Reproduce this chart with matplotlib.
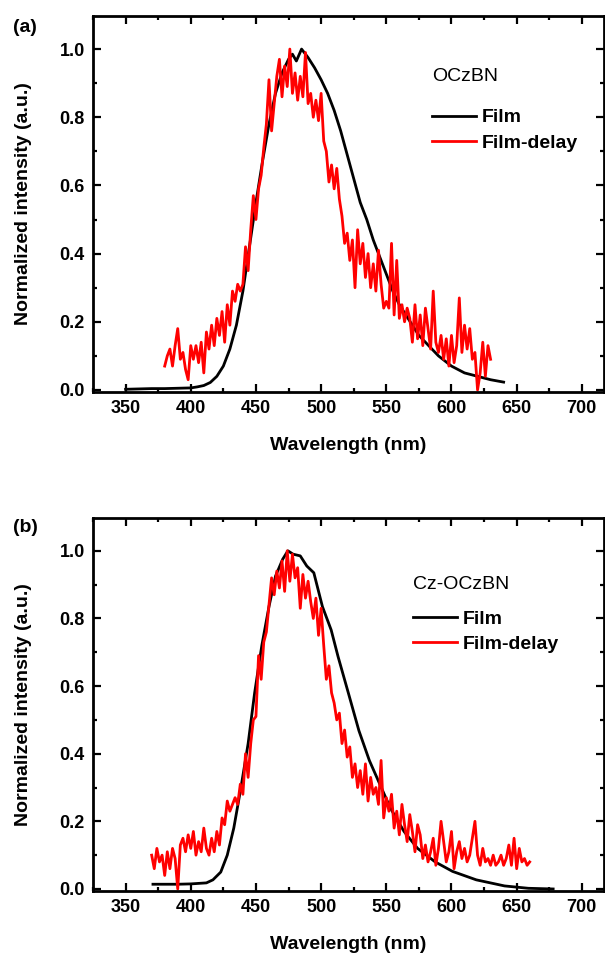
import numpy as np
import matplotlib
matplotlib.use('Agg')
import matplotlib.pyplot as plt
from matplotlib.ticker import MultipleLocator

plt.rcParams['font.family'] = ['Liberation Sans', 'DejaVu Sans']

# (a) OCzBN
a_film_x = [350, 360, 370, 380, 390, 400, 405, 410, 415, 420, 425, 430, 435, 440, 445, 450,
            455, 460, 465, 470, 475, 478, 481, 485, 490, 495, 500, 505, 510, 515, 520, 525,
            530, 535, 540, 545, 550, 555, 560, 565, 570, 575, 580, 585, 590, 595, 600, 610,
            620, 630, 640]
a_film_y = [0.002, 0.003, 0.004, 0.004, 0.005, 0.006, 0.009, 0.013, 0.022, 0.04, 0.07, 0.12,
            0.19, 0.29, 0.42, 0.55, 0.67, 0.78, 0.87, 0.93, 0.97, 0.985, 0.965, 1.0, 0.975,
            0.945, 0.91, 0.87, 0.82, 0.76, 0.69, 0.62, 0.55, 0.50, 0.44, 0.39, 0.34, 0.29,
            0.25, 0.22, 0.19, 0.16, 0.14, 0.12, 0.10, 0.085, 0.07, 0.05, 0.04, 0.03, 0.023]

a_delay_x = list(range(380, 632, 2))
a_delay_y = [0.07, 0.10, 0.12, 0.07, 0.13, 0.18, 0.09, 0.11, 0.06, 0.03, 0.13, 0.09, 0.13,
             0.08, 0.14, 0.05, 0.17, 0.12, 0.19, 0.13, 0.21, 0.16, 0.23, 0.14, 0.25, 0.19,
             0.29, 0.26, 0.31, 0.29, 0.31, 0.42, 0.35, 0.47, 0.57, 0.50, 0.59, 0.63, 0.71,
             0.78, 0.91, 0.76, 0.84, 0.92, 0.97, 0.86, 0.95, 0.89, 1.00, 0.87, 0.93, 0.85,
             0.92, 0.86, 0.99, 0.84, 0.87, 0.80, 0.85, 0.79, 0.87, 0.73, 0.70, 0.61, 0.66,
             0.59, 0.65, 0.56, 0.51, 0.43, 0.46, 0.38, 0.44, 0.30, 0.47, 0.37, 0.43, 0.33,
             0.40, 0.30, 0.37, 0.29, 0.41, 0.31, 0.24, 0.26, 0.24, 0.43, 0.22, 0.38, 0.21,
             0.25, 0.20, 0.24, 0.21, 0.14, 0.25, 0.15, 0.22, 0.13, 0.24, 0.18, 0.12, 0.29,
             0.14, 0.11, 0.16, 0.09, 0.15, 0.07, 0.16, 0.08, 0.13, 0.27, 0.11, 0.19, 0.12,
             0.18, 0.09, 0.11, 0.00, 0.05, 0.14, 0.04, 0.13, 0.09]

# (b) Cz-OCzBN
b_film_x = [371, 380, 390, 400, 412, 417, 423, 428, 433, 438.5, 444, 449, 454.5, 460, 465,
            470.5, 474.5, 478.5, 484, 489, 494.4, 501, 507.7, 513, 521, 529, 537, 545, 553,
            563.6, 574, 587.5, 600.8, 619, 640.7, 659, 678]
b_film_y = [0.014, 0.014, 0.014, 0.015, 0.018, 0.027, 0.05, 0.10, 0.18, 0.30, 0.43, 0.58,
            0.72, 0.835, 0.925, 0.975, 1.0, 0.99, 0.985, 0.955, 0.935, 0.835, 0.766, 0.687,
            0.578, 0.468, 0.38, 0.31, 0.24, 0.17, 0.12, 0.08, 0.052, 0.027, 0.009, 0.002, 0.0]

b_delay_x = list(range(370, 662, 2))
b_delay_y = [0.10, 0.06, 0.12, 0.08, 0.10, 0.04, 0.11, 0.06, 0.12, 0.09, 0.00, 0.13, 0.15,
             0.11, 0.16, 0.12, 0.17, 0.10, 0.14, 0.11, 0.18, 0.12, 0.10, 0.15, 0.11, 0.17,
             0.13, 0.21, 0.19, 0.26, 0.23, 0.25, 0.27, 0.25, 0.31, 0.28, 0.40, 0.33, 0.43,
             0.50, 0.51, 0.69, 0.62, 0.73, 0.76, 0.84, 0.92, 0.87, 0.94, 0.89, 0.97, 0.88,
             1.00, 0.91, 0.99, 0.92, 0.95, 0.83, 0.93, 0.86, 0.91, 0.85, 0.80, 0.86, 0.75,
             0.83, 0.72, 0.62, 0.66, 0.58, 0.55, 0.50, 0.52, 0.43, 0.47, 0.39, 0.42, 0.33,
             0.37, 0.30, 0.35, 0.28, 0.37, 0.26, 0.33, 0.28, 0.30, 0.25, 0.38, 0.21, 0.27,
             0.23, 0.28, 0.18, 0.23, 0.16, 0.25, 0.19, 0.14, 0.22, 0.17, 0.11, 0.19, 0.16,
             0.09, 0.13, 0.08, 0.11, 0.15, 0.07, 0.12, 0.20, 0.14, 0.08, 0.11, 0.17, 0.06,
             0.11, 0.14, 0.09, 0.12, 0.08, 0.10, 0.15, 0.20, 0.10, 0.07, 0.12, 0.08, 0.09,
             0.07, 0.10, 0.07, 0.08, 0.10, 0.07, 0.09, 0.13, 0.07, 0.15, 0.06, 0.12, 0.08,
             0.09, 0.07, 0.08]

panels = [
    ('(a)', 'OCzBN', a_film_x, a_film_y, a_delay_x, a_delay_y, 584.8, 0.92),
    ('(b)', 'Cz-OCzBN', b_film_x, b_film_y, b_delay_x, b_delay_y, 570.2, 0.90),
]

fig = plt.figure(figsize=(6.05, 9.55), dpi=100)
rects = [[93/605, 1-392/955, 511/605, 376/955],
         [93/605, 1-891/955, 511/605, 373/955]]
letter_y = [27, 528]

for i, (tag, name, fx, fy, dx, dy, tx, ty) in enumerate(panels):
    ax = fig.add_axes(rects[i])
    ax.plot(fx, fy, color='black', lw=2.0, label='Film')
    ax.plot(dx, dy, color='red', lw=2.0, label='Film-delay')
    ax.set_xlim(325, 717)
    ax.set_ylim(-0.006, 1.097)
    ax.xaxis.set_major_locator(MultipleLocator(50))
    ax.xaxis.set_minor_locator(MultipleLocator(25))
    ax.yaxis.set_major_locator(MultipleLocator(0.2))
    ax.yaxis.set_minor_locator(MultipleLocator(0.1))
    ax.tick_params(which='both', direction='in', top=True, right=True, width=1.6)
    ax.tick_params(which='major', length=6, labelsize=13, pad=6)
    ax.tick_params(which='minor', length=3)
    ax.yaxis.set_major_formatter(plt.FuncFormatter(lambda v, p: '%.1f' % v))
    for lab in ax.get_xticklabels() + ax.get_yticklabels():
        lab.set_fontweight('bold')
    for sp in ax.spines.values():
        sp.set_linewidth(2)
    ax.set_xlabel('Wavelength (nm)', fontsize=14, fontweight='bold', labelpad=14)
    ax.set_ylabel('Normalized intensity (a.u.)', fontsize=14, fontweight='bold')
    ax.yaxis.set_label_coords(-0.12, 0.5)
    ax.text(tx, ty, name, fontsize=14, va='center')
    ax.legend(loc='upper left', bbox_to_anchor=(tx, 0.825), bbox_transform=ax.transData,
              frameon=False, prop={'weight': 'bold', 'size': 14},
              handlelength=2.3, handletextpad=0.3, labelspacing=0.4,
              borderpad=0, borderaxespad=0)
    fig.text(25/605, 1-letter_y[i]/955, tag, fontsize=14, fontweight='bold',
             ha='center', va='center')

fig.savefig('out.png', dpi=100)
